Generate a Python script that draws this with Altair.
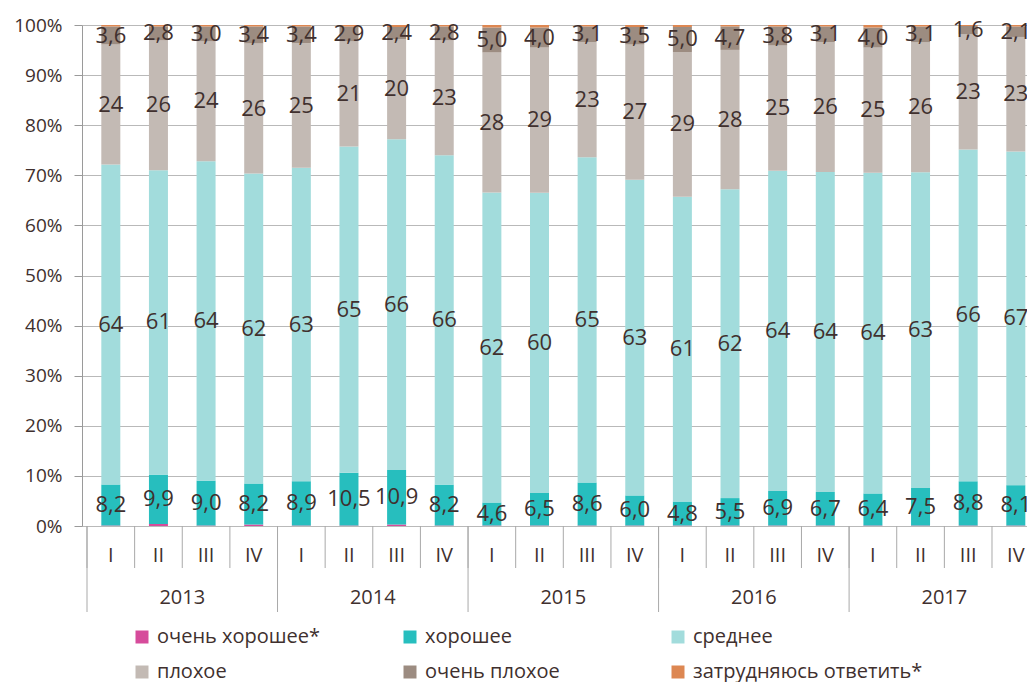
import altair as alt
import pandas as pd

years = ["2013", "2014", "2015", "2016", "2017"]
quarters = ["I", "II", "III", "IV"]
categories = ["очень хорошее*", "хорошее", "среднее", "плохое", "очень плохое", "затрудняюсь ответить*"]
colors = ["#d64b9b", "#27bebe", "#a2dcdc", "#c3bab4", "#9c8c81", "#dd8752"]
# legend is filled column by column in two rows: this order shows the reference's row layout
legend_order = [0, 3, 1, 4, 2, 5]

very_good = [0.1, 0.4, 0.1, 0.3, 0.1, 0.1, 0.3, 0.1, 0.1, 0.1, 0.1, 0.1, 0.1, 0.1, 0.1, 0.1, 0.1, 0.1, 0.1, 0.1]
good = [8.2, 9.9, 9.0, 8.2, 8.9, 10.5, 10.9, 8.2, 4.6, 6.5, 8.6, 6.0, 4.8, 5.5, 6.9, 6.7, 6.4, 7.5, 8.8, 8.1]
average = [64, 61, 64, 62, 63, 65, 66, 66, 62, 60, 65, 63, 61, 62, 64, 64, 64, 63, 66, 67]
bad = [24, 26, 24, 26, 25, 21, 20, 23, 28, 29, 23, 27, 29, 28, 25, 26, 25, 26, 23, 23]
very_bad = [3.6, 2.8, 3.0, 3.4, 3.4, 2.9, 2.4, 2.8, 5.0, 4.0, 3.1, 3.5, 5.0, 4.7, 3.8, 3.1, 4.0, 3.1, 1.6, 2.1]
dont_know = [0.3, 0.3, 0.3, 0.3, 0.3, 0.3, 0.4, 0.3, 0.5, 0.5, 0.3, 0.4, 0.4, 0.3, 0.3, 0.3, 0.5, 0.3, 0.2, 0.3]

series = [very_good, good, average, bad, very_bad, dont_know]
TEXT = "#40302e"
GRID = "#b9b9b9"
SEP = "#a9a9a9"
FONT = "Open Sans"

rows = []
for i in range(20):
    for k, (cat, vals) in enumerate(zip(categories, series)):
        rows.append({
            "idx": i,
            "cat": cat,
            "order": k,
            "value": vals[i],
            "labeled": k in (1, 2, 3, 4),
            "dec": k in (1, 4),
        })
df = pd.DataFrame(rows)

qdf = pd.DataFrame({"idx": list(range(20)), "q": quarters * 5})
ydf = pd.DataFrame({"pos": [1.5, 5.5, 9.5, 13.5, 17.5], "year": years})
qsep = pd.DataFrame({"pos": [i - 0.5 for i in range(20)]})
ysep = pd.DataFrame({"pos": [-0.5, 3.5, 7.5, 11.5, 15.5]})

xscale = alt.Scale(domain=[-0.5, 19.13], nice=False, zero=False)
yscale = alt.Scale(domain=[0, 1], nice=False)

base = alt.Chart(df).transform_stack(
    stack="value",
    groupby=["idx"],
    as_=["y0", "y1"],
    offset="normalize",
    sort=[alt.SortField(field="order", order="ascending")],
)

bars = base.mark_bar(size=19, clip=True).encode(
    x=alt.X("idx:Q", scale=xscale, axis=None),
    y=alt.Y(
        "y0:Q",
        scale=yscale,
        title=None,
        axis=alt.Axis(
            format="%",
            values=[i / 10 for i in range(11)],
            grid=True,
            gridColor=GRID,
            domainColor="#9a9a9a",
            tickColor="#9a9a9a",
            tickSize=8,
            labelFontSize=19,
            labelColor=TEXT,
            labelPadding=12,
            labelFont=FONT,
        ),
    ),
    y2="y1:Q",
    color=alt.Color(
        "cat:N",
        scale=alt.Scale(
            domain=[categories[j] for j in legend_order],
            range=[colors[j] for j in legend_order],
        ),
        legend=alt.Legend(
            title=None,
            orient="none",
            legendX=50,
            legendY=602,
            columns=3,
            gridAlign="all",
            columnPadding=13,
            rowPadding=15,
            symbolType="square",
            symbolSize=169,
            symbolStrokeWidth=0,
            labelFontSize=20,
            labelFont=FONT,
            labelColor=TEXT,
            labelOffset=5,
            labelLimit=400,
            padding=0,
        ),
    ),
)

labels = base.transform_filter("datum.labeled").transform_calculate(
    mid="(datum.y0 + datum.y1) / 2",
    label="datum.dec ? replace(format(datum.value, '.1f'), '.', ',') : format(datum.value, '.0f')",
).mark_text(fontSize=22, color=TEXT, font=FONT, baseline="middle").encode(
    x=alt.X("idx:Q", scale=xscale),
    y=alt.Y("mid:Q", scale=yscale),
    text="label:N",
)

qseps = alt.Chart(qsep).mark_rule(color=SEP, strokeWidth=1).encode(
    x=alt.X("pos:Q", scale=xscale), y=alt.value(501), y2=alt.value(543)
)
yseps = alt.Chart(ysep).mark_rule(color=SEP, strokeWidth=1).encode(
    x=alt.X("pos:Q", scale=xscale), y=alt.value(501), y2=alt.value(587)
)
qlabels = alt.Chart(qdf).mark_text(fontSize=20, color=TEXT, font=FONT, baseline="middle").encode(
    x=alt.X("idx:Q", scale=xscale), y=alt.value(531), text="q:N"
)
ylabels = alt.Chart(ydf).mark_text(fontSize=20, color=TEXT, font=FONT, baseline="middle").encode(
    x=alt.X("pos:Q", scale=xscale), y=alt.value(573), text="year:N"
)

chart = alt.layer(bars, labels, qseps, yseps, qlabels, ylabels).properties(
    width=945,
    height=501,
    padding={"left": 74, "top": 17, "right": 0, "bottom": 156},
    autosize=alt.AutoSizeParams(type="none"),
).configure_view(stroke=None)

chart.save("out.html", embed_options={"renderer": "svg", "actions": False})
